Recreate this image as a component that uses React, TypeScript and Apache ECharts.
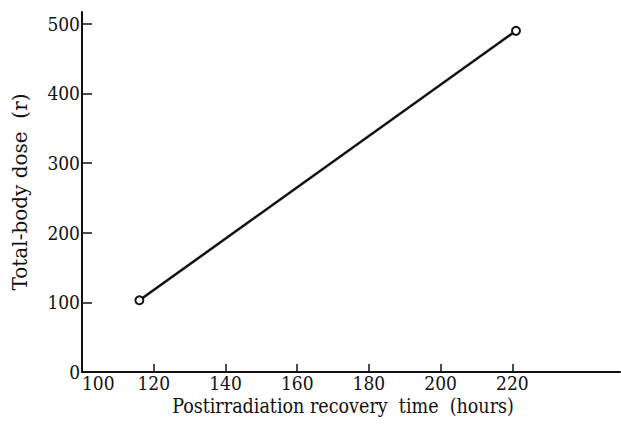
import React, { useEffect, useRef } from "react";
import * as echarts from "echarts";

const hours = [116, 221];
const dose = [103, 490];
const xTicks = [100, 120, 140, 160, 180, 200, 220];
const yTicks = [0, 100, 200, 300, 400, 500];

const FONT = "'DejaVu Serif Condensed', 'DejaVu Serif', serif";
const FONT_WIDE = "'DejaVu Serif', serif";
const NB = "\u00a0";

export default function App() {
  const ref = useRef<HTMLDivElement>(null);
  useEffect(() => {
    if (!ref.current) return;
    const chart = echarts.init(ref.current, null, { renderer: "svg" });
    chart.setOption({
      animation: false,
      backgroundColor: "#ffffff",
      grid: { left: 82, right: 1, top: 12, bottom: 58, outerBoundsMode: "none", containLabel: false },
      xAxis: {
        type: "value",
        min: 100,
        max: 250,
        name: `Postirradiation${NB}recovery${NB}${NB}time${NB}${NB}(hours)`,
        nameLocation: "middle",
        nameGap: 20,
        nameTextStyle: { fontFamily: FONT, fontSize: 19.5, color: "#111", padding: [0, 16, 0, 0] },
        splitLine: { show: false },
        axisLine: { lineStyle: { color: "#111", width: 2 } },
        axisTick: {
          inside: true,
          length: 8,
          customValues: xTicks,
          lineStyle: { color: "#111", width: 1.5 },
        },
        axisLabel: {
          customValues: xTicks,
          fontFamily: FONT,
          fontSize: 19,
          color: "#111",
          margin: 1,
          alignMinLabel: "left",
        },
      },
      yAxis: {
        type: "value",
        min: 0,
        max: 517,
        name: `Total-body${NB}dose${NB}${NB}(r)`,
        nameLocation: "middle",
        nameGap: 52,
        nameTextStyle: { fontFamily: FONT_WIDE, fontSize: 20, color: "#111" },
        splitLine: { show: false },
        axisLine: { lineStyle: { color: "#111", width: 2 } },
        axisTick: {
          inside: true,
          length: 10,
          customValues: yTicks,
          lineStyle: { color: "#111", width: 1.5 },
        },
        axisLabel: {
          customValues: yTicks,
          fontFamily: FONT,
          fontSize: 19,
          color: "#111",
          margin: 2,
        },
      },
      series: [
        {
          type: "line",
          data: hours.map((h, i) => [h, dose[i]]),
          symbol: "emptyCircle",
          symbolSize: 8,
          lineStyle: { color: "#111", width: 2.5 },
          itemStyle: { color: "#111", borderColor: "#111", borderWidth: 2 },
        },
      ],
    });
    return () => chart.dispose();
  }, []);
  return <div ref={ref} style={{ width: 621, height: 430, position: "absolute", left: 0, top: 0 }} />;
}
